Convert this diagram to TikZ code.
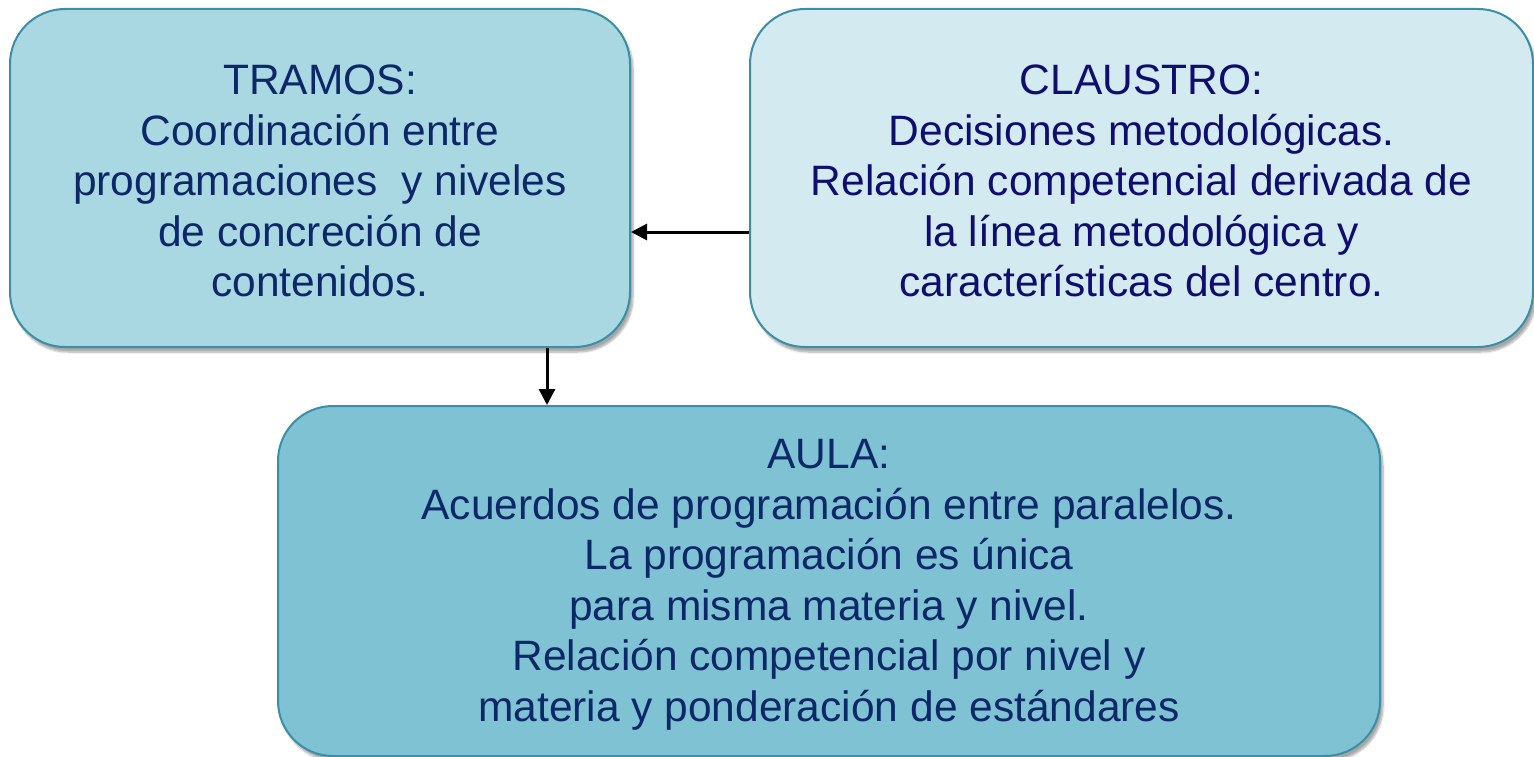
\documentclass[tikz,border=0pt]{standalone}
\usepackage{fontspec}
\setmainfont{Liberation Sans}
\usetikzlibrary{arrows.meta,shadows.blur}
\definecolor{txtnavy}{RGB}{12,40,104}
\definecolor{txtblue}{RGB}{14,14,112}
\definecolor{edgeteal}{RGB}{58,143,166}
\definecolor{fillA}{RGB}{169,215,226}
\definecolor{fillB}{RGB}{211,234,240}
\definecolor{fillC}{RGB}{126,194,211}
\tikzset{
  boxbase/.style={draw=edgeteal, line width=2pt, rounded corners=55pt, inner sep=0pt,
    blur shadow={shadow xshift=3pt, shadow yshift=-5pt, shadow blur steps=6, shadow opacity=35}},
  boxtext/.style={text=txtnavy, align=center, inner sep=0pt,
    font=\fontsize{42.5}{50.5}\selectfont},
  arr/.style={draw=black, line width=3pt, -{Triangle[length=16pt,width=16pt]}}
}
\begin{document}
\begin{tikzpicture}[x=1pt,y=-1pt]
\useasboundingbox (0,0) rectangle (1534,757);
\node[boxbase, fill=fillA, minimum width=620pt, minimum height=338pt] (tramos) at (320,178) {};
\node[boxbase, fill=fillB, minimum width=783pt, minimum height=338pt] (claustro) at (1141.5,178) {};
\node[boxbase, fill=fillC, minimum width=1102pt, minimum height=350pt] (aula) at (829,581) {};
\node[boxtext] (tramosT) at (320,181)
  {TRAMOS:\\Coordinación entre\\programaciones~ y niveles\\de concreción de\\contenidos.};
\node[boxtext, text=txtblue] (claustroT) at (1141.5,181)
  {CLAUSTRO:\\Decisiones metodológicas.\\Relación competencial derivada de\\la línea metodológica y\\características del centro.};
\node[boxtext] (aulaT) at (829,585)
  {AULA:\\Acuerdos de programación entre paralelos.\\La programación es única\\para misma materia y nivel.\\Relación competencial por nivel y\\materia y ponderación de estándares};
\coordinate (hy) at (0,232);
\coordinate (vx) at (547,0);
\draw[arr] (claustro.west |- hy) -- (tramos.east |- hy);
\draw[arr] (tramos.south -| vx) -- (aula.north -| vx);
\end{tikzpicture}
\end{document}
